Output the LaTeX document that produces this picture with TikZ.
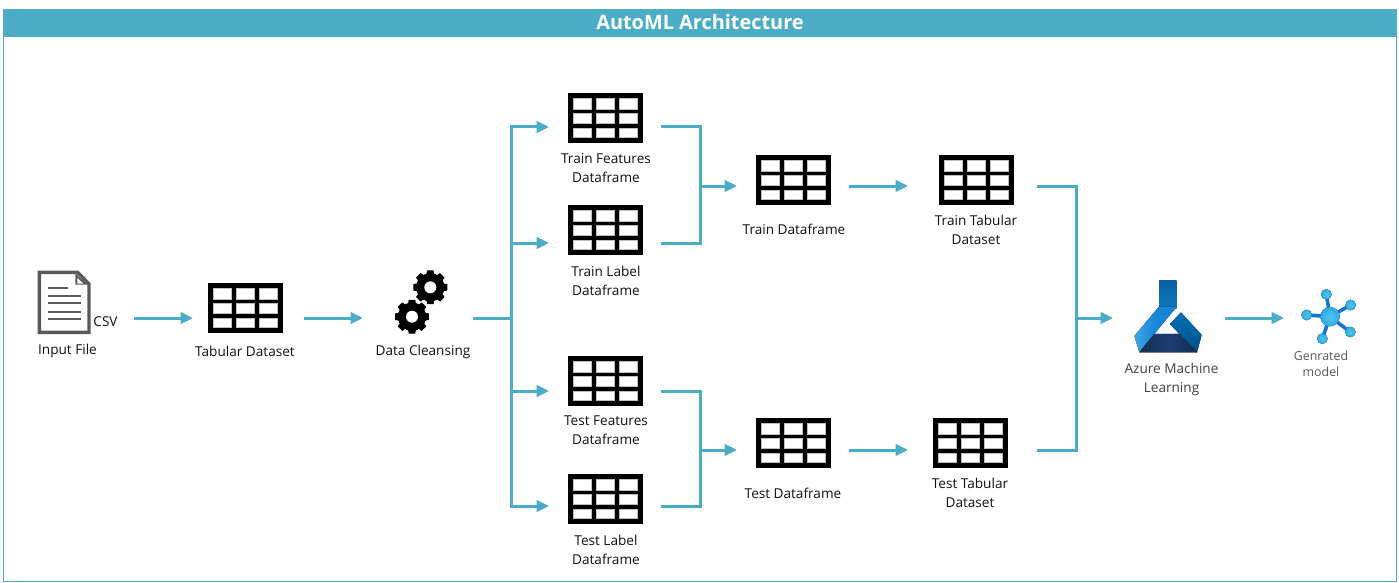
\documentclass[tikz,border=0pt]{standalone}
\usepackage{fontspec}
\setmainfont{Open Sans}
\usetikzlibrary{arrows.meta}
\definecolor{teal1}{HTML}{4BACC6}
\definecolor{txt}{HTML}{111111}
\definecolor{azA}{HTML}{0B5F9E}
\definecolor{azB}{HTML}{0A7CC0}
\definecolor{azC}{HTML}{1585D8}
\definecolor{azD}{HTML}{3FA6E6}
\definecolor{azE}{HTML}{0070B5}
\definecolor{azF}{HTML}{00508A}
\definecolor{azG}{HTML}{1C3D72}
\definecolor{azH}{HTML}{14304F}
\definecolor{hubS}{HTML}{0F78D4}
\definecolor{hubL}{HTML}{50C6EE}
\definecolor{hubM}{HTML}{2FA8E4}
\tikzset{
  x=1pt,y=-1pt,
  arr/.style={draw=teal1,line width=3pt,-{Triangle[length=12.5pt,width=11.5pt]}},
  bus/.style={draw=teal1,line width=3pt,line join=miter},
  tbl/.style={draw=none,fill=black,minimum width=75pt,minimum height=50pt,inner sep=0pt,outer sep=0pt,
    path picture={
      \foreach \cx in {5.4,28.4,51.4}
        \foreach \cy/\ch in {5.4/11.2,20.4/10.2,35.4/9.2}
          \draw[draw=black!25,fill=white,line width=0.8pt]
            ([xshift=\cx pt,yshift=-\cy pt]path picture bounding box.north west)
            rectangle ++(18.2pt,\ch);
    }},
  lbl/.style={font=\fontsize{13.6}{19}\selectfont,text=txt,align=center,inner sep=0pt,yshift=0.8pt},
  lblg/.style={font=\fontsize{12.4}{16}\selectfont,text=black!65,align=center,inner sep=0pt},
  icon/.style={inner sep=0pt,outer sep=0pt},
}
\newcommand{\gearicon}[2]{%
  \begin{scope}[shift={(#1,#2)}]
    \fill[black]
      (-14:13.8)
      \foreach \a in {0,45,...,315}{
        -- (\a-14:13.8) -- (\a-10:16.8) -- (\a+10:16.8) -- (\a+14:13.8)
      } -- cycle;
    \draw[black,line width=0.8pt,line join=round]
      (-14:13.8)
      \foreach \a in {0,45,...,315}{
        -- (\a-14:13.8) -- (\a-10:16.8) -- (\a+10:16.8) -- (\a+14:13.8)
      } -- cycle;
    \fill[white] (0,0) circle (6);
  \end{scope}}
\begin{document}
\begin{tikzpicture}
\useasboundingbox (0,0) rectangle (1399,583);
\fill[white] (0,0) rectangle (1399,583);
% frame + title
\draw[draw=teal1,line width=0.8pt] (3.5,36) rectangle (1396.5,581.5);
\node[fill=teal1,minimum width=1394pt,minimum height=27pt,inner sep=0pt,outer sep=0pt,
  text=white,font=\fontsize{19.9}{22}\bfseries\selectfont] (title) at (700,22.5) {AutoML Architecture};

% document icon
\node[icon,minimum width=53pt,minimum height=63pt] (input) at (64.5,302.5) {};
\begin{scope}[shift={(0,250)},scale=0.3333]
  \draw[draw=black!65,fill=white,line width=3.4pt,line join=miter]
    (118,67) -- (233,67) -- (267,102) -- (267,247) -- (118,247) -- cycle;
  \fill[black!65] (226,70) -- (262,104) -- (226,104) -- cycle;
  \fill[white] (232,84) -- (250,101) -- (232,101) -- cycle;
  \foreach \yy/\xe in {113/205,137/242,160/242,185/242,208/242}
    \draw[black!65,line width=1.8pt] (145,\yy) -- (\xe,\yy);
\end{scope}
\node[lbl] (csvl) at (105.5,322.5) {CSV};
\node[lbl] (inputl) at (67.5,352) {Input File};

% tables
\node[tbl] (tab) at (245.5,308) {};
\node[lbl] (tabl) at (245,352) {Tabular Dataset};

% gears
\node[icon,minimum width=50pt,minimum height=66pt] (gears) at (421,302) {};
\gearicon{430.3}{287.3}
\gearicon{412}{316.7}
\node[lbl] (gearsl) at (423,353) {Data Cleansing};

\node[tbl] (tf) at (605.5,118) {};
\node[lbl] (tfl) at (606,168.5) {Train Features\\Dataframe};
\node[tbl] (tl) at (605.5,230) {};
\node[lbl] (tll) at (606,281.5) {Train Label\\Dataframe};
\node[tbl] (xf) at (605.5,381) {};
\node[lbl] (xfl) at (606,431.5) {Test Features\\Dataframe};
\node[tbl] (xl) at (605.5,499) {};
\node[lbl] (xll) at (606,550.5) {Test Label\\Dataframe};
\node[tbl] (td) at (793.5,180) {};
\node[lbl] (tdl) at (794,230) {Train Dataframe};
\node[tbl] (xd) at (793.5,443) {};
\node[lbl] (xdl) at (793,494) {Test Dataframe};
\node[tbl] (tt) at (976.5,180) {};
\node[lbl] (ttl) at (976,230.5) {Train Tabular\\Dataset};
\node[tbl] (xt) at (970.5,443) {};
\node[lbl] (xtl) at (970,493.5) {Test Tabular\\Dataset};

% Azure ML icon
\node[icon,minimum width=68pt,minimum height=72pt] (azure) at (1168,316) {};
\begin{scope}[shift={(1100,260)},scale=0.3333]
  \fill[top color=azA,bottom color=azB] (177,62) -- (230,62) -- (230,145) -- (177,145) -- cycle;
  \fill[left color=azD,right color=azC,middle color=azC] (177,140) -- (230,140) -- (163,222) -- (118,277) -- (103,228) -- cycle;
  \fill[top color=azE,bottom color=azF] (243,157) -- (305,225) -- (291,277) -- (238,222) -- (210,192) -- cycle;
  \fill[left color=azH,right color=azH,middle color=azG] (163,222) -- (238,222) -- (291,277) -- (118,277) -- cycle;
\end{scope}
\node[lbl,text=black!75] (azurel) at (1171.5,380.5) {Azure Machine\\Learning};

% model icon
\node[icon,minimum width=54pt,minimum height=54pt] (model) at (1329,316) {};
\begin{scope}[shift={(1100,260)},scale=0.3333]
  \foreach \sx/\sy in {679/103,752/135,620/165,751/216,667/236}{
    \draw[hubS,line width=3.6pt] (690,170) -- (\sx,\sy);
    \fill[inner color=hubL,outer color=hubM] (\sx,\sy) circle (16);
  }
  \fill[inner color=hubL,outer color=hubM] (690,170) circle (29);
\end{scope}
\node[lblg] (modell) at (1321,364) {Genrated\\model};

% junctions
\coordinate (busA) at (511,318);
\coordinate (tfin) at (549,127);
\coordinate (tlin) at (549,243);
\coordinate (xfin) at (549,391);
\coordinate (xlin) at (549,506);
\coordinate (tfout) at (661,127);
\coordinate (tlout) at (661,243);
\coordinate (xfout) at (661,391);
\coordinate (xlout) at (661,506);
\coordinate (mergeT) at (700,186);
\coordinate (mergeX) at (700,450);
\coordinate (ttout) at (1037,186);
\coordinate (xtout) at (1037,450);
\coordinate (mergeZ) at (1076,318);

% connectors
\draw[arr,shorten <=43pt,shorten >=15pt] (input.east |- busA) -- (tab.west |- busA);
\draw[arr,shorten <=21pt,shorten >=33pt] (tab.east |- busA) -- (gears.west |- busA);
\draw[bus,shorten <=27pt] (gears.east |- busA) -- (busA);
\draw[arr] (busA) |- (tfin);
\draw[arr] (busA) |- (tlin);
\draw[arr] (busA) |- (xfin);
\draw[arr] (busA) |- (xlin);
\draw[bus] (tfout) -| (mergeT) |- (tlout);
\draw[bus] (xfout) -| (mergeX) |- (xlout);
\draw[arr,shorten >=19pt] (mergeT) -- (td.west |- mergeT);
\draw[arr,shorten >=19pt] (mergeX) -- (xd.west |- mergeX);
\draw[arr,shorten <=18pt,shorten >=31pt] (td.east |- mergeT) -- (tt.west |- mergeT);
\draw[arr,shorten <=18pt,shorten >=25pt] (xd.east |- mergeX) -- (xt.west |- mergeX);
\draw[bus] (ttout) -| (mergeZ) |- (xtout);
\draw[arr,shorten >=21pt] (mergeZ) -- (azure.west |- mergeZ);
\draw[arr,shorten <=23pt,shorten >=18pt] (azure.east |- mergeZ) -- (model.west |- mergeZ);
\end{tikzpicture}
\end{document}
